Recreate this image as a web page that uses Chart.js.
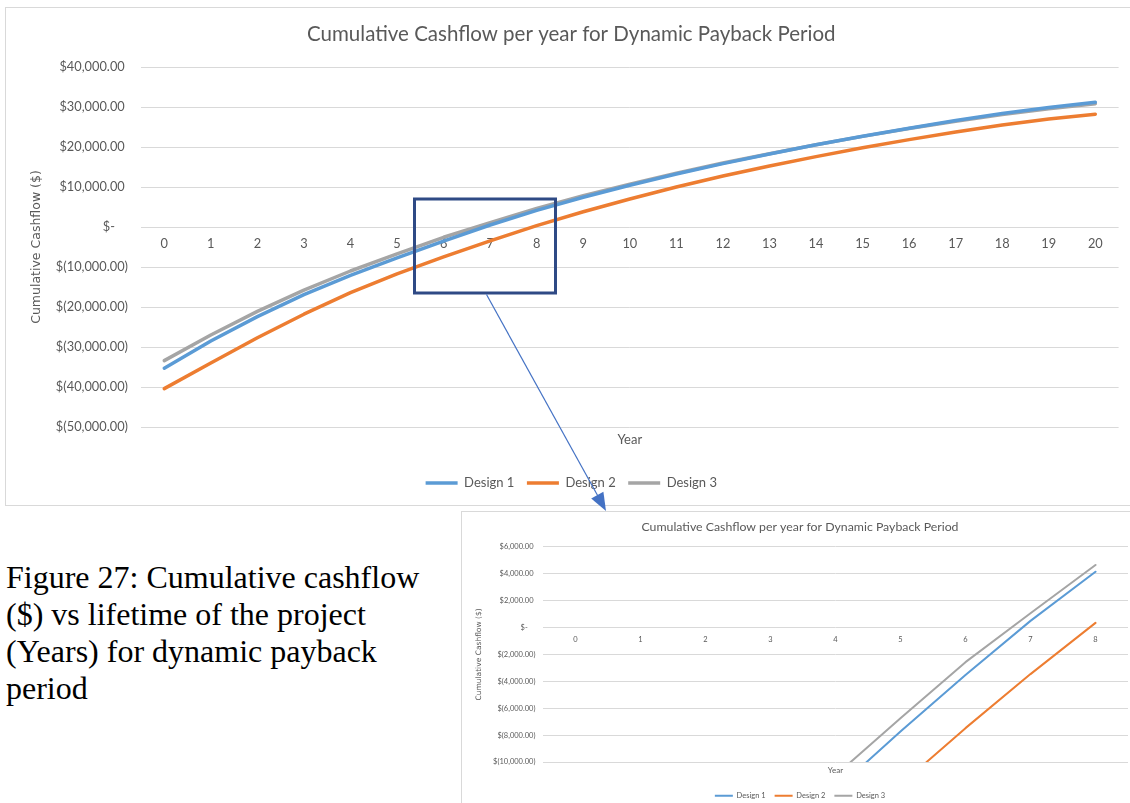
<!DOCTYPE html>
<html>
<head>
<meta charset="utf-8">
<title>Cumulative Cashflow per year for Dynamic Payback Period</title>
<script src="https://cdn.jsdelivr.net/npm/chart.js@4.4.1/dist/chart.umd.min.js"></script>
<style>
  html, body { margin: 0; padding: 0; background: #ffffff; }
  body { width: 1130px; height: 803px; position: relative; overflow: hidden; }
  #mainBox { position: absolute; left: 5px; top: 7px; width: 1140px; height: 497px; border: 1px solid #d9d9d9; }
  #mainBox canvas { position: absolute; left: 0; top: 0; }
  #detailBox { position: absolute; left: 461px; top: 511px; width: 700px; height: 320px; border: 1px solid #d9d9d9; }
  #detailBox canvas { position: absolute; left: 0; top: 0; filter: blur(0.4px); }
  #caption { position: absolute; left: 6px; top: 559px; font-family: "Liberation Serif", "Times New Roman", serif;
             font-size: 32px; line-height: 36.9px; color: #000; white-space: nowrap; }
  #callout { position: absolute; left: 0; top: 0; width: 1130px; height: 803px; pointer-events: none; }
</style>
</head>
<body>
<div id="mainBox"><canvas id="mainChart" width="1136" height="497"></canvas></div>
<div id="detailBox"><canvas id="detailChart" width="676" height="300"></canvas></div>
<div id="caption">Figure 27: Cumulative cashflow<br>($) vs lifetime of the project<br>(Years) for dynamic payback<br>period</div>
<svg id="callout" viewBox="0 0 1130 803">
  <rect x="414.5" y="199" width="141" height="94" fill="none" stroke="#2f4a85" stroke-width="3"/>
  <line x1="486.5" y1="294.5" x2="599" y2="498" stroke="#4472c4" stroke-width="1.2"/>
  <polygon points="606,511 603.4,491.8 591.2,498.6" fill="#4472c4"/>
</svg>
<script>
// Project years and cumulative discounted cashflow for each design ($)
const years = ['0','1','2','3','4','5','6','7','8','9','10','11','12','13','14','15','16','17','18','19','20'];
const design1 = [-35300, -28500, -22400, -16900, -12100, -7730, -3520, 500, 4160, 7450, 10450, 13250, 15850, 18250, 20550, 22700, 24700, 26600, 28350, 29900, 31200];
const design2 = [-40400, -34000, -27700, -21800, -16400, -11700, -7480, -3460, 350, 3800, 7000, 10000, 12750, 15250, 17600, 19800, 21850, 23750, 25500, 27000, 28200];
const design3 = [-33400, -27000, -21100, -15800, -11000, -6740, -2570, 1070, 4660, 7800, 10700, 13450, 16000, 18300, 20550, 22650, 24600, 26450, 28100, 29550, 30800];
const seriesNames = ['Design 1', 'Design 2', 'Design 3'];
const seriesColors = ['#5b9bd5', '#ed7d31', '#a5a5a5'];
const chartTitle = 'Cumulative Cashflow per year for Dynamic Payback Period';
const yAxisTitle = 'Cumulative Cashflow ($)';
const xAxisTitle = 'Year';
// Detail view covers the first eight years around the payback point
const detailYears = years.slice(0, 9);

const FONT = 'Lato, "Open Sans", sans-serif';
const WIDE_FONT = '"DejaVu Sans", Verdana, sans-serif';
const TEXT = '#595959';
const GRID = '#d9d9d9';

// Accounting-style currency labels: $40,000.00 / $- / $(10,000.00)
function accounting(v) {
  if (v === 0) return '$-    ';
  const s = Math.abs(v).toLocaleString('en-US', { minimumFractionDigits: 2, maximumFractionDigits: 2 });
  return v < 0 ? '$(' + s + ')' : '$' + s + ' ';
}

function buildChart(canvas, o) {
  const n = o.labels.length;
  const series = [design1, design2, design3];
  return new Chart(canvas, {
    type: 'line',
    data: {
      labels: o.labels,
      datasets: series.map((d, i) => ({
        label: seriesNames[i],
        data: d.slice(0, n),
        borderColor: seriesColors[i],
        backgroundColor: seriesColors[i],
        borderWidth: o.lineWidth,
        pointRadius: 0,
        pointHoverRadius: 0,
        tension: 0,
        borderCapStyle: 'round',
        borderJoinStyle: 'round',
        xAxisID: 'x',
        yAxisID: 'y'
      }))
    },
    options: {
      responsive: false,
      animation: false,
      devicePixelRatio: 1,
      layout: { padding: o.padding },
      plugins: {
        tooltip: { enabled: false },
        title: {
          display: true, text: chartTitle, color: TEXT,
          font: { family: FONT, size: o.titleSize, weight: 'normal' },
          padding: o.titlePad
        },
        legend: {
          position: 'bottom',
          labels: {
            usePointStyle: true, pointStyle: 'line', pointStyleWidth: o.legendLine,
            color: TEXT, font: { family: FONT, size: o.legendSize }, padding: o.legendPad
          }
        }
      },
      scales: {
        x: {
          type: 'category', position: { y: 0 }, offset: true,
          grid: { display: false, drawTicks: false }, border: { display: false },
          ticks: { color: TEXT, font: { family: FONT, size: o.tickSize }, padding: o.xTickPad, maxRotation: 0, autoSkip: false }
        },
        xName: {
          type: 'category', axis: 'x', position: 'bottom', labels: o.labels, offset: true,
          grid: { display: false, drawTicks: false }, border: { display: false },
          ticks: { display: false },
          title: { display: true, text: xAxisTitle, color: TEXT, font: { family: FONT, size: o.axisTitleSize }, padding: o.xTitlePad }
        },
        y: {
          min: o.yMin, max: o.yMax,
          grid: { color: GRID, lineWidth: 1, drawTicks: false }, border: { display: false },
          ticks: { stepSize: o.yStep, callback: accounting, color: TEXT, font: { family: FONT, size: o.tickSize }, padding: o.yTickPad },
          title: { display: true, text: yAxisTitle, color: TEXT, font: { family: WIDE_FONT, size: o.yTitleSize }, padding: { top: o.yTitleOffset, bottom: 0 } },
          afterFit: s => { s.width = o.yWidth; }
        }
      }
    }
  });
}

// Full 20-year chart
buildChart(document.getElementById('mainChart'), {
  labels: years, lineWidth: 3.5,
  padding: { left: 18, right: 23.4, top: 0, bottom: 5.5 },
  titleSize: 20.5, titlePad: { top: 13.7, bottom: 20.7 },
  legendLine: 32, legendSize: 13, legendPad: 12.5,
  tickSize: 12.8, xTickPad: 9.5, yTickPad: 13,
  axisTitleSize: 13, xTitlePad: { top: 5.2, bottom: 16.2 },
  yTitleSize: 12.5, yTitleOffset: 5, yWidth: 117,
  yMin: -50000, yMax: 40000, yStep: 10000
});

// Detail chart, years 0 to 8
buildChart(document.getElementById('detailChart'), {
  labels: detailYears, lineWidth: 2,
  padding: { left: 10, right: 10, top: 0, bottom: 2.5 },
  titleSize: 12.3, titlePad: { top: 7.9, bottom: 12.3 },
  legendLine: 18, legendSize: 7.5, legendPad: 9,
  tickSize: 7.5, xTickPad: 7, yTickPad: 7.5,
  axisTitleSize: 8, xTitlePad: { top: 3.2, bottom: 8.2 },
  yTitleSize: 7.5, yTitleOffset: 2.6, yWidth: 70.9,
  yMin: -10000, yMax: 6000, yStep: 2000
});
</script>
</body>
</html>
